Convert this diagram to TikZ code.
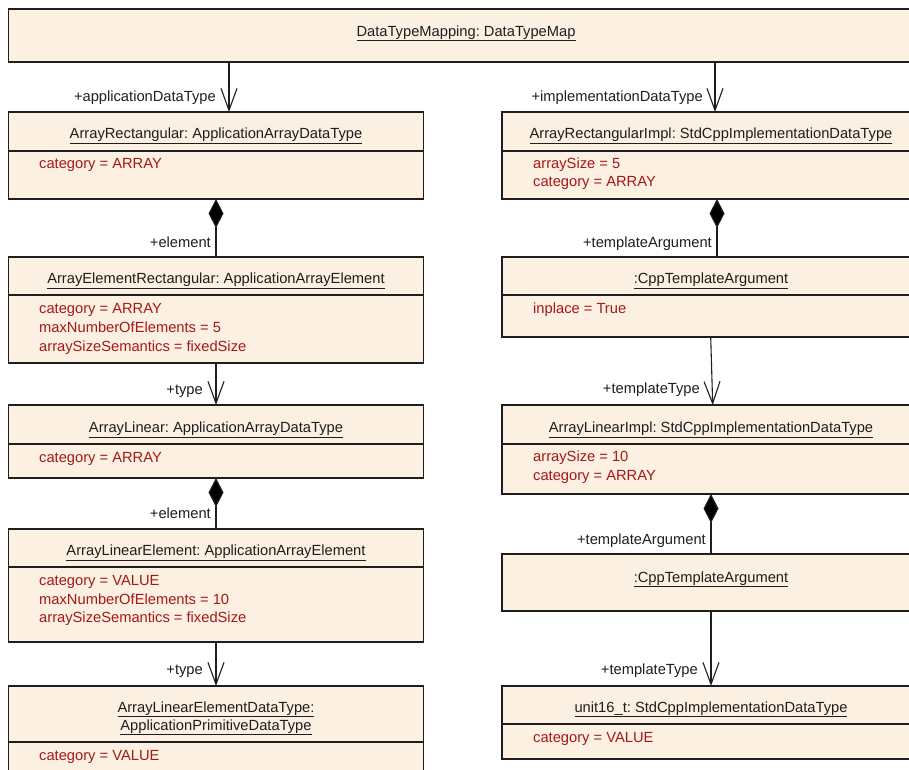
\documentclass[tikz,border=0pt]{standalone}
\usepackage{fontspec}
\setmainfont{Liberation Sans}
\usetikzlibrary{arrows.meta}
\definecolor{boxfill}{HTML}{FBF0E2}
\definecolor{attrc}{HTML}{A51818}
\definecolor{titlec}{HTML}{1E1E1E}
\definecolor{linec}{HTML}{1E1E1E}
\newcommand\umlfont{\fontsize{14.7}{17}\selectfont\frenchspacing}
\tikzset{
  umlbox/.style={draw=linec, fill=boxfill, line width=1.1pt, rectangle, inner sep=0pt, outer sep=0pt, anchor=north west},
  ttl/.style={font=\umlfont, text=titlec, anchor=base, inner sep=0pt},
  attr/.style={font=\umlfont, text=attrc, anchor=base west, inner sep=0pt},
  role/.style={font=\umlfont, text=titlec, anchor=base east, inner sep=0pt},
  conn/.style={line width=1.1pt, draw=linec},
  sepline/.style={line width=1.1pt, draw=linec},
  nav/.style={conn, -{Straight Barb[length=22pt,width=16pt]}},
  comp/.style={conn, {Diamond[length=29pt,width=15pt,fill=black]}-},
}
\begin{document}
\frenchspacing
\begin{tikzpicture}[x=1pt,y=-1pt]
\useasboundingbox (0,0) rectangle (909,769);
\fill[white] (0,0) rectangle (909,769);
\clip (0,0) rectangle (909,769);

% column coordinates
\coordinate (xl1) at (229,0);
\coordinate (xl) at (216,0);
\coordinate (xr1) at (715,0);
\coordinate (xr2) at (717,0);
\coordinate (xr3a) at (710.7,0);
\coordinate (xr3b) at (712.7,0);
\coordinate (xr4) at (711,0);

% top box
\node[umlbox, minimum width=912pt, minimum height=53pt] (top) at (8.5,9) {};
\node[ttl] (topt) at (466,36) {\underline{DataTypeMapping: DataTypeMap}};

% left column
\node[umlbox, minimum width=415pt, minimum height=87pt] (arect) at (8.5,112) {};
\draw[sepline] (arect.north west) ++(0,39) -- ++(415,0);
\node[ttl] (arectt) at (216,138.5) {\underline{ArrayRectangular: ApplicationArrayDataType}};
\node[attr] (arecta) at (39,168.5) {category = ARRAY};

\node[umlbox, minimum width=415pt, minimum height=106pt] (aelem) at (8.5,257) {};
\draw[sepline] (aelem.north west) ++(0,38) -- ++(415,0);
\node[ttl] (aelemt) at (216,283.5) {\underline{ArrayElementRectangular: ApplicationArrayElement}};
\node[attr] (aelema) at (39,313.5) {category = ARRAY};
\node[attr] (aelemb) at (39,332.5) {maxNumberOfElements = 5};
\node[attr] (aelemc) at (39,351.5) {arraySizeSemantics = fixedSize};

\node[umlbox, minimum width=415pt, minimum height=73pt] (alin) at (8.5,405) {};
\draw[sepline] (alin.north west) ++(0,39) -- ++(415,0);
\node[ttl] (alint) at (216,432.5) {\underline{ArrayLinear: ApplicationArrayDataType}};
\node[attr] (alina) at (39,462.5) {category = ARRAY};

\node[umlbox, minimum width=415pt, minimum height=113pt] (alinel) at (8.5,529) {};
\draw[sepline] (alinel.north west) ++(0,38) -- ++(415,0);
\node[ttl] (alinelt) at (216,555.5) {\underline{ArrayLinearElement: ApplicationArrayElement}};
\node[attr] (alinela) at (39,585.5) {category = VALUE};
\node[attr] (alinelb) at (39,604.5) {maxNumberOfElements = 10};
\node[attr] (alinelc) at (39,622.5) {arraySizeSemantics = fixedSize};

\node[umlbox, minimum width=415pt, minimum height=110pt] (aprim) at (8.5,686) {};
\draw[sepline] (aprim.north west) ++(0,56) -- ++(415,0);
\node[ttl] (aprimt1) at (216,712) {\underline{ArrayLinearElementDataType:}};
\node[ttl] (aprimt2) at (216,730) {\underline{ApplicationPrimitiveDataType}};
\node[attr] (aprima) at (39,760.5) {category = VALUE};

% right column
\node[umlbox, minimum width=418pt, minimum height=87pt] (arimpl) at (502,112) {};
\draw[sepline] (arimpl.north west) ++(0,39) -- ++(418,0);
\node[ttl] (arimplt) at (711,138.5) {\underline{ArrayRectangularImpl: StdCppImplementationDataType}};
\node[attr] (arimpla) at (533,168.5) {arraySize = 5};
\node[attr] (arimplb) at (533,186.5) {category = ARRAY};

\node[umlbox, minimum width=418pt, minimum height=80pt] (cta) at (502,257) {};
\draw[sepline] (cta.north west) ++(0,38) -- ++(418,0);
\node[ttl] (ctat) at (711,283.5) {\underline{:CppTemplateArgument}};
\node[attr] (ctaa) at (533,313.5) {inplace = True};

\node[umlbox, minimum width=418pt, minimum height=89pt] (alimpl) at (502,405) {};
\draw[sepline] (alimpl.north west) ++(0,39) -- ++(418,0);
\node[ttl] (alimplt) at (711,432.5) {\underline{ArrayLinearImpl: StdCppImplementationDataType}};
\node[attr] (alimpla) at (533,461.5) {arraySize = 10};
\node[attr] (alimplb) at (533,480.5) {category = ARRAY};

\node[umlbox, minimum width=418pt, minimum height=57pt] (ctb) at (502,554) {};
\node[ttl] (ctbt) at (711,582) {\underline{:CppTemplateArgument}};

\node[umlbox, minimum width=418pt, minimum height=73pt] (uint) at (502,686) {};
\draw[sepline] (uint.north west) ++(0,38) -- ++(418,0);
\node[ttl] (uintt) at (711,712) {\underline{unit16\_t: StdCppImplementationDataType}};
\node[attr] (uinta) at (533,742.5) {category = VALUE};

% connectors
\draw[nav] (top.south -| xl1) -- (arect.north -| xl1);
\node[role] (r1) at (216,101) {+applicationDataType};
\draw[nav] (top.south -| xr1) -- (arimpl.north -| xr1);
\node[role] (r2) at (703,101) {+implementationDataType};

\draw[comp] (arect.south -| xl) -- (aelem.north -| xl);
\node[role] (r3) at (211,247) {+element};
\draw[nav] (aelem.south -| xl) -- (alin.north -| xl);
\node[role] (r4) at (203,394) {+type};
\draw[comp] (alin.south -| xl) -- (alinel.north -| xl);
\node[role] (r5) at (211,518) {+element};
\draw[nav] (alinel.south -| xl) -- (aprim.north -| xl);
\node[role] (r6) at (203,674) {+type};

\draw[comp] (arimpl.south -| xr2) -- (cta.north -| xr2);
\node[role] (r7) at (712,247) {+templateArgument};
\draw[nav] (cta.south -| xr3a) -- (alimpl.north -| xr3b);
\node[role] (r8) at (700,393) {+templateType};
\draw[comp] (alimpl.south -| xr4) -- (ctb.north -| xr4);
\node[role] (r9) at (706,544) {+templateArgument};
\draw[nav] (ctb.south -| xr4) -- (uint.north -| xr4);
\node[role] (r10) at (698,674) {+templateType};
\end{tikzpicture}
\end{document}
